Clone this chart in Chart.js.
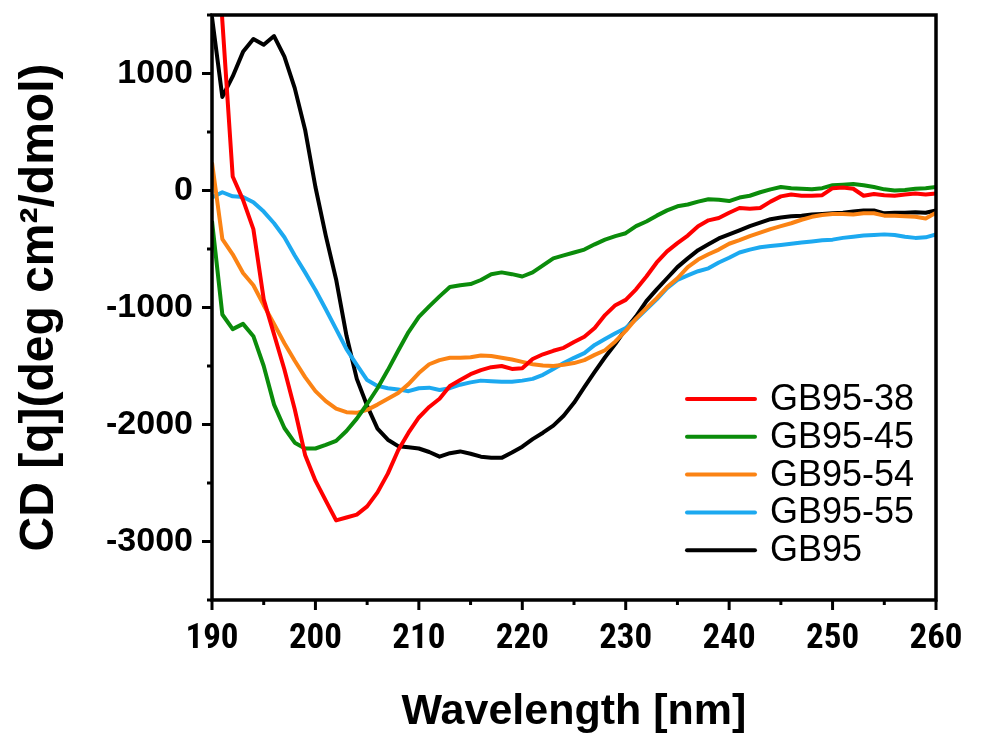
<!DOCTYPE html>
<html>
<head>
<meta charset="utf-8">
<title>CD spectra</title>
<script src="https://cdn.jsdelivr.net/npm/chart.js@4.4.0/dist/chart.umd.min.js"></script>
<style>
  html, body { margin: 0; padding: 0; background: #fff; }
</style>
</head>
<body>
<canvas id="cd" width="990" height="742"></canvas>
<script>
// Wavelength grid (nm), one reading per nm
const wavelengths = [
  190, 191, 192, 193, 194, 195, 196, 197, 198, 199,
  200, 201, 202, 203, 204, 205, 206, 207, 208, 209,
  210, 211, 212, 213, 214, 215, 216, 217, 218, 219,
  220, 221, 222, 223, 224, 225, 226, 227, 228, 229,
  230, 231, 232, 233, 234, 235, 236, 237, 238, 239,
  240, 241, 242, 243, 244, 245, 246, 247, 248, 249,
  250, 251, 252, 253, 254, 255, 256, 257, 258, 259,
  260
];

// Mean residue ellipticity, deg cm2/dmol
const gb95_38 = [
  3000, 1450, 120, -80, -330, -930, -1230, -1530, -1870, -2260,
  -2480, -2650, -2820, -2795, -2770, -2700, -2580, -2420, -2220, -2070,
  -1940, -1850, -1780, -1670, -1620, -1570, -1535, -1510, -1500, -1525,
  -1520, -1440, -1400, -1370, -1345, -1295, -1250, -1175, -1065, -980,
  -935, -845, -735, -615, -520, -450, -385, -305, -255, -235,
  -190, -150, -155, -150, -95, -50, -35, -45, -45, -40,
  20, 25, 15, -45, -30, -40, -45, -35, -25, -35,
  -25
];

const gb95_45 = [
  -260, -1060, -1185, -1140, -1245, -1500, -1830, -2030, -2155, -2205,
  -2205, -2175, -2140, -2055, -1950, -1825, -1690, -1535, -1370, -1210,
  -1080, -990, -905, -825, -810, -800, -765, -715, -700, -715,
  -735, -700, -640, -580, -555, -530, -505, -460, -420, -390,
  -365, -305, -265, -215, -170, -135, -120, -95, -75, -80,
  -90, -60, -45, -15, 10, 30, 20, 15, 10, 20,
  45, 50, 55, 45, 30, 10, 0, 5, 15, 20,
  30
];

const gb95_54 = [
  240, -415, -545, -705, -810, -980, -1140, -1305, -1455, -1595,
  -1715, -1800, -1865, -1895, -1900, -1875, -1830, -1780, -1730, -1655,
  -1560, -1485, -1450, -1430, -1430, -1425, -1410, -1415, -1430, -1445,
  -1465, -1485, -1495, -1500, -1490, -1475, -1450, -1405, -1365, -1290,
  -1200, -1095, -1005, -920, -825, -750, -655, -590, -545, -505,
  -455, -425, -390, -360, -330, -305, -280, -250, -225, -210,
  -200, -200, -205, -195, -195, -215, -215, -220, -225, -240,
  -190
];

const gb95_55 = [
  -60, -15, -50, -55, -100, -180, -280, -400, -555, -700,
  -850, -1015, -1185, -1355, -1490, -1620, -1670, -1690, -1700, -1715,
  -1690, -1685, -1705, -1690, -1660, -1640, -1625, -1630, -1635, -1635,
  -1625, -1610, -1575, -1525, -1475, -1430, -1390, -1320, -1270, -1220,
  -1175, -1100, -1015, -930, -835, -765, -725, -690, -665, -615,
  -575, -530, -505, -485, -475, -465, -455, -445, -435, -425,
  -420, -405, -395, -385, -380, -375, -380, -395, -405, -400,
  -375
];

const gb95 = [
  1480, 800, 975, 1185, 1295, 1245, 1320, 1145, 875, 520,
  30, -385, -760, -1240, -1610, -1840, -2035, -2130, -2185, -2195,
  -2205, -2235, -2275, -2245, -2230, -2250, -2275, -2285, -2285, -2240,
  -2190, -2125, -2070, -2010, -1925, -1815, -1680, -1550, -1425, -1310,
  -1185, -1075, -945, -845, -750, -655, -580, -510, -460, -410,
  -375, -340, -305, -275, -245, -230, -220, -215, -205, -200,
  -195, -190, -180, -170, -170, -195, -190, -190, -185, -190,
  -170
];

const seriesLabels = ['GB95-38', 'GB95-45', 'GB95-54', 'GB95-55', 'GB95'];
const seriesColors = ['#ff0000', '#0b8c0b', '#fb8314', '#1ca9f0', '#000000'];
const seriesValues = [gb95_38, gb95_45, gb95_54, gb95_55, gb95];

const FONT = "'Liberation Sans', Arial, Helvetica, sans-serif";
const NARROW_FONT = "'Roboto Condensed', " + FONT;
const CHART_LEFT = 212;
const CHART_BOTTOM = 600;

function toPoints(values) {
  return wavelengths.map((w, i) => ({ x: w, y: values[i] }));
}

// Frame around the plot plus outward major/minor tick marks
const frameTicks = {
  id: 'frameTicks',
  afterDatasetsDraw(chart) {
    const { ctx, chartArea: a, scales } = chart;
    ctx.save();
    ctx.strokeStyle = '#000';
    ctx.lineWidth = 3.5;
    ctx.lineCap = 'square';
    ctx.strokeRect(a.left, a.top, a.right - a.left, a.bottom - a.top);

    ctx.lineWidth = 3;
    ctx.lineCap = 'butt';
    scales.x.ticks.forEach(t => {
      const px = scales.x.getPixelForValue(t.value);
      const len = t.value % 10 === 0 ? 10 : 5;
      ctx.beginPath();
      ctx.moveTo(px, a.bottom);
      ctx.lineTo(px, a.bottom + len);
      ctx.stroke();
    });
    scales.y.ticks.forEach(t => {
      const py = scales.y.getPixelForValue(t.value);
      const len = t.value % 1000 === 0 ? 10 : 5;
      ctx.beginPath();
      ctx.moveTo(a.left, py);
      ctx.lineTo(a.left - len, py);
      ctx.stroke();
    });
    ctx.restore();
  }
};

// Legend stacked inside the lower right of the plot
const insideLegend = {
  id: 'insideLegend',
  afterDraw(chart) {
    const { ctx } = chart;
    const lineX0 = 687, lineX1 = 755, textX = 770, rowY0 = 399, rowGap = 37.8;
    ctx.save();
    ctx.font = '36px ' + FONT;
    ctx.textBaseline = 'middle';
    ctx.textAlign = 'left';
    chart.data.datasets.forEach((ds, i) => {
      const y = rowY0 + i * rowGap;
      ctx.strokeStyle = ds.borderColor;
      ctx.lineWidth = 4;
      ctx.lineCap = 'round';
      ctx.beginPath();
      ctx.moveTo(lineX0, y);
      ctx.lineTo(lineX1, y);
      ctx.stroke();
      ctx.fillStyle = '#000';
      ctx.fillText(ds.label, textX, y + 1);
    });
    ctx.restore();
  }
};

new Chart(document.getElementById('cd'), {
  type: 'line',
  data: {
    datasets: seriesValues.map((vals, i) => ({
      label: seriesLabels[i],
      data: toPoints(vals),
      borderColor: seriesColors[i],
      backgroundColor: seriesColors[i],
      borderWidth: 4,
      pointRadius: 0,
      tension: 0,
      borderJoinStyle: 'round',
      fill: false
    }))
  },
  options: {
    responsive: false,
    devicePixelRatio: 1,
    animation: false,
    layout: { padding: { top: 15, right: 54, left: 0, bottom: 0 } },
    plugins: {
      legend: { display: false },
      tooltip: { enabled: false }
    },
    scales: {
      x: {
        type: 'linear',
        min: 190,
        max: 260,
        afterFit(scale) {
          scale.height = 742 - CHART_BOTTOM;
          scale.paddingLeft = 0;
          scale.paddingRight = 0;
        },
        grid: { drawOnChartArea: false, drawTicks: true, tickLength: 10, tickColor: 'rgba(0,0,0,0)' },
        border: { display: false },
        ticks: {
          stepSize: 5,
          autoSkip: false,
          maxRotation: 0,
          padding: 8,
          color: '#000',
          font: { family: NARROW_FONT, size: 35, weight: 'bold' },
          callback: v => (v % 10 === 0 ? String(v) : '')
        },
        title: {
          display: true,
          text: 'Wavelength [nm]',
          color: '#000',
          font: { family: FONT, size: 43, weight: 'bold', lineHeight: 1 },
          padding: { top: 0, bottom: 8 }
        }
      },
      y: {
        min: -3500,
        max: 1500,
        afterFit(scale) {
          scale.width = CHART_LEFT;
          scale.paddingTop = 0;
          scale.paddingBottom = 0;
        },
        grid: { drawOnChartArea: false, drawTicks: true, tickLength: 10, tickColor: 'rgba(0,0,0,0)' },
        border: { display: false },
        ticks: {
          stepSize: 500,
          autoSkip: false,
          padding: 9,
          color: '#000',
          font: { family: FONT, size: 34, weight: 'bold' },
          callback: v => (v % 1000 === 0 ? String(v) : '')
        },
        title: {
          display: true,
          text: 'CD [q](deg cm\u00b2/dmol)',
          color: '#000',
          font: { family: FONT, size: 48, weight: 'bold', lineHeight: 1 },
          padding: { top: 16, bottom: 0 }
        }
      }
    }
  },
  plugins: [frameTicks, insideLegend]
});
</script>
</body>
</html>
